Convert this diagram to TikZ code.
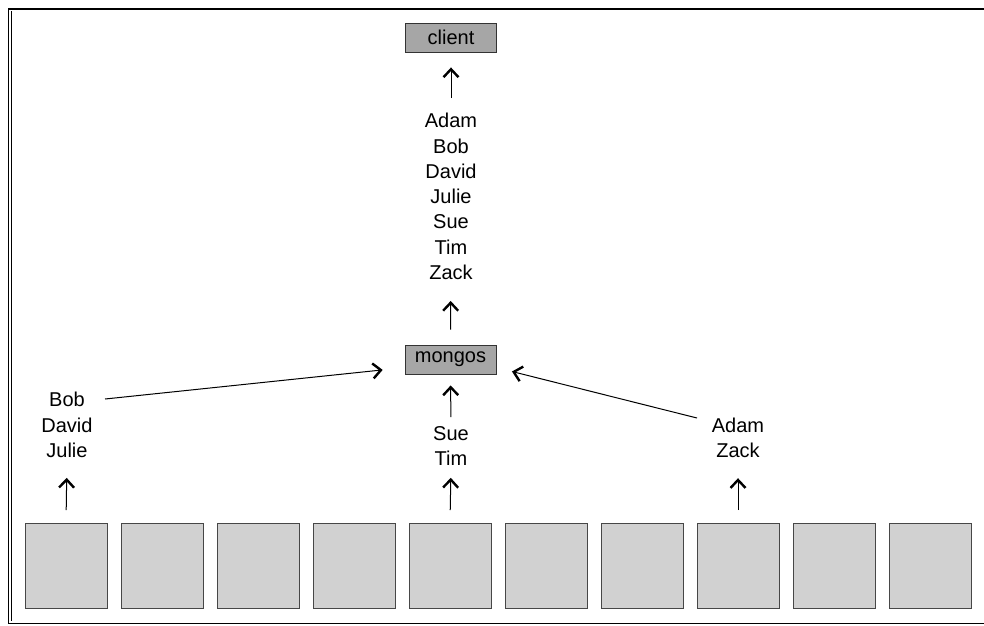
\documentclass[tikz,border=0pt]{standalone}
\usepackage{fontspec}
\setmainfont{Liberation Sans}
\usetikzlibrary{positioning,arrows.meta}

\begin{document}
\begin{tikzpicture}[
  x=1pt, y=-1pt,
  font=\fontsize{20}{25.3}\selectfont,
  srv/.style={rectangle, draw=black!80, line width=0.9pt, fill=black!35,
              minimum width=91pt, minimum height=29pt, inner sep=0pt},
  shard/.style={rectangle, draw=black!72, line width=1pt, fill=black!18,
                minimum width=82pt, minimum height=85pt, inner sep=0pt, outer sep=0pt},
  names/.style={align=center, inner sep=0pt},
  arr/.style={-{Straight Barb[length=8pt, width=15pt, line width=2.4pt]}, line width=1pt}
]
\useasboundingbox (0,0) rectangle (984,625);
% frame
\draw[line width=2.2pt] (8,9) -- (984,9);
\draw[line width=0.8pt] (8,9) -- (8,623) -- (984,623);
\draw[line width=0.8pt] (11,11) -- (11,621);

\node[srv] (client) at (451,37.5) {client};
\node[srv] (mongos) at (450.5,359.5) {mongos};

\node[names] (all) at (451,196.5) {Adam\\Bob\\David\\Julie\\Sue\\Tim\\Zack};
\node[names] (lft) at (67,425) {Bob\\David\\Julie};
\node[names] (mid) at (451,446) {Sue\\Tim};
\node[names] (rgt) at (738,438) {Adam\\Zack};

% shards
\foreach \i in {0,...,9}
  \node[shard] (s\i) at (66+96*\i,565.5) {};

\coordinate (bobout) at (105,399);
\coordinate (adamout) at (697,418);

\draw[arr, shorten <=15pt, shorten >=15pt] (all) -- (client);
\draw[arr, shorten <=15pt, shorten >=21pt] (mongos) -- (all);
\draw[arr, shorten <=9pt, shorten >=11pt] (mid) -- (mongos);
\draw[arr, shorten >=22pt] (bobout) -- (mongos.190);
\draw[arr, shorten >=16pt] (adamout) -- (mongos.-10);

\draw[arr, shorten <=13pt, shorten >=20pt] (s0.north) -- (lft.south);
\draw[arr, shorten <=13pt, shorten >=12pt] (s4.north) -- (mid.south);
\draw[arr, shorten <=13pt, shorten >=20pt] (s7.north) -- (rgt.south);
\end{tikzpicture}
\end{document}
